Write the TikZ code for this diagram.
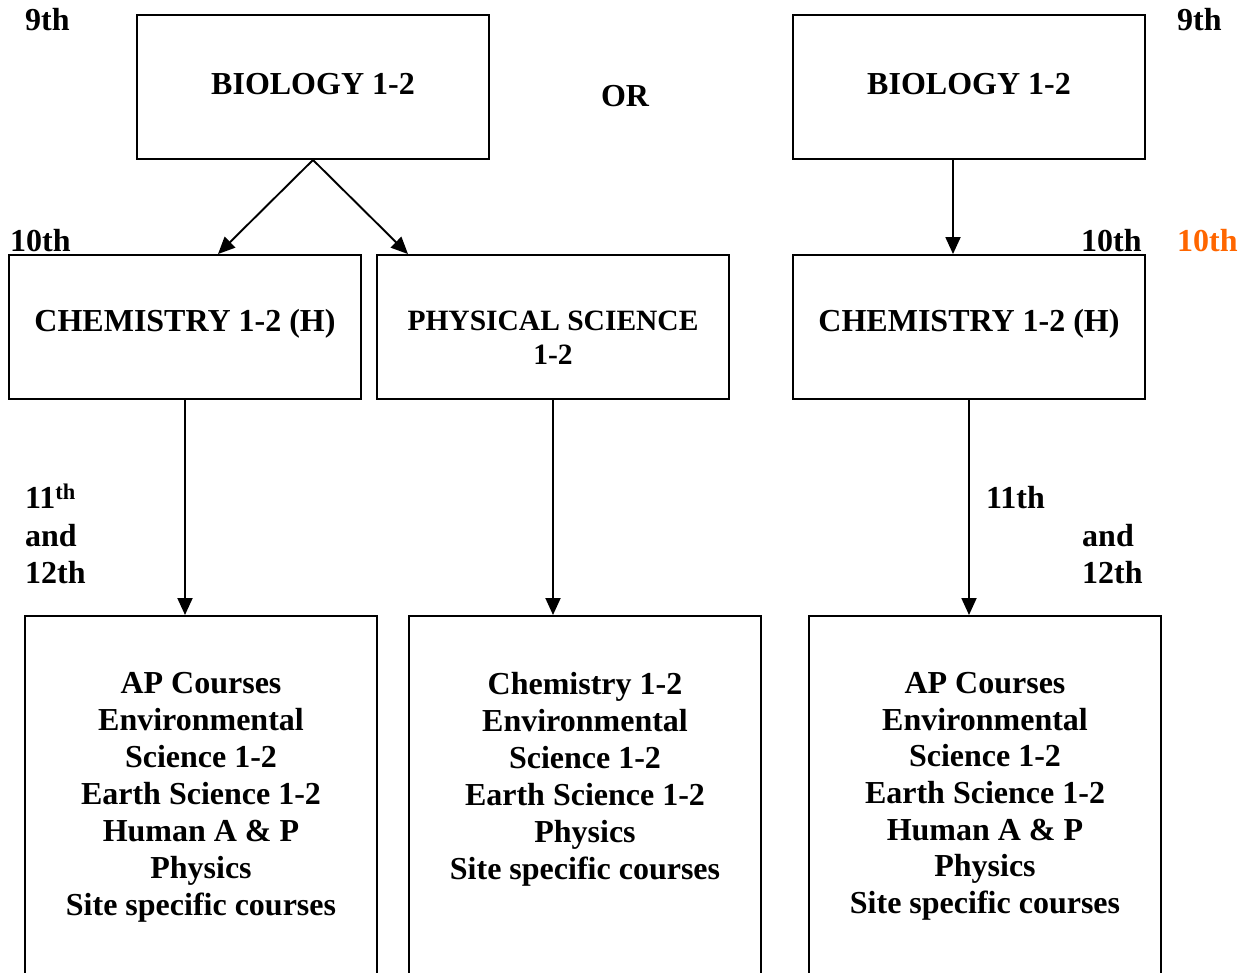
\documentclass[tikz,border=0pt]{standalone}
\usepackage{fontspec}
\setmainfont{Liberation Serif}
\usetikzlibrary{arrows.meta}
\definecolor{gradeorange}{RGB}{255,102,0}
\tikzset{
  box/.style={draw, line width=1.9pt, inner sep=0pt},
  big/.style={font=\fontsize{32}{37}\selectfont\bfseries},
  lbl/.style={big, inner sep=0pt, anchor=base west},
  arr/.style={line width=1.9pt, -{Triangle[length=17pt,width=15pt]}},
  list/.style={big, align=center, inner sep=0pt, anchor=north}
}
\begin{document}
\begin{tikzpicture}[x=1pt,y=-1pt]
\useasboundingbox (0,0) rectangle (1246,972);
\clip (0,0) rectangle (1246,972);
% top boxes
\node[box, minimum width=352pt, minimum height=144pt] (bioL) at (313,87) {};
\node[big, inner sep=0pt] (bioLt) at (313,84) {BIOLOGY 1-2};
\node[box, minimum width=352pt, minimum height=144pt] (bioR) at (969,87) {};
\node[big, inner sep=0pt] (bioRt) at (969,84) {BIOLOGY 1-2};
\node[big, inner sep=0pt] (or) at (625,96) {OR};
% second row
\node[box, minimum width=352pt, minimum height=144pt] (chemL) at (185,327) {};
\node[big, inner sep=0pt] (chemLt) at (185,324) {CHEMISTRY 1-2 (H)};
\node[box, minimum width=352pt, minimum height=144pt] (phys) at (553,327) {};
\node[font=\fontsize{29.5}{34}\selectfont\bfseries, align=center, inner sep=0pt] (physt) at (553,338) {PHYSICAL SCIENCE\\1-2};
\node[box, minimum width=352pt, minimum height=144pt] (chemR) at (969,327) {};
\node[big, inner sep=0pt] (chemRt) at (969,324) {CHEMISTRY 1-2 (H)};
% bottom boxes (open at the bottom of the picture)
\node[box, minimum width=352pt, minimum height=420pt, anchor=north] (botL) at (201,615) {};
\node[box, minimum width=352pt, minimum height=420pt, anchor=north] (botM) at (585,615) {};
\node[box, minimum width=352pt, minimum height=420pt, anchor=north] (botR) at (985,615) {};
\node[list] (listL) at (201,672) {AP Courses\\Environmental\\Science 1-2\\Earth Science 1-2\\Human A \& P\\Physics\\Site specific courses};
\node[list] (listM) at (585,672) {Chemistry 1-2\\Environmental\\Science 1-2\\Earth Science 1-2\\Physics\\Site specific courses};
\node[list, font=\fontsize{32}{36.7}\selectfont\bfseries] (listR) at (985,672) {AP Courses\\Environmental\\Science 1-2\\Earth Science 1-2\\Human A \& P\\Physics\\Site specific courses};
% grade labels
\node[lbl] (g9L) at (25,30) {9th};
\node[lbl] (g9R) at (1177,30) {9th};
\node[lbl] (g10L) at (10,251) {10th};
\node[lbl] (g10R) at (1081,251) {10th};
\node[lbl, text=gradeorange] (g10O) at (1177,251) {10th};
\node[lbl, anchor=north west, align=left, font=\fontsize{32}{37.5}\selectfont\bfseries] (g11L) at (25,484) {11\textsuperscript{th}\\and\\12th};
\node[lbl] (g11R) at (986,508) {11th};
\node[lbl] (andR) at (1082,546) {and};
\node[lbl] (g12R) at (1082,583) {12th};
% connectors
\coordinate (bioLb) at (bioL.south);
\draw[arr] (bioLb) -- (chemL.north -| 218,0);
\draw[arr] (bioLb) -- (phys.north -| 408,0);
\draw[arr] (bioR.south -| 953,0) -- (chemR.north -| 953,0);
\draw[arr] (chemL.south) -- (botL.north -| chemL.south);
\draw[arr] (phys.south) -- (botM.north -| phys.south);
\draw[arr] (chemR.south) -- (botR.north -| chemR.south);
\end{tikzpicture}
\end{document}
